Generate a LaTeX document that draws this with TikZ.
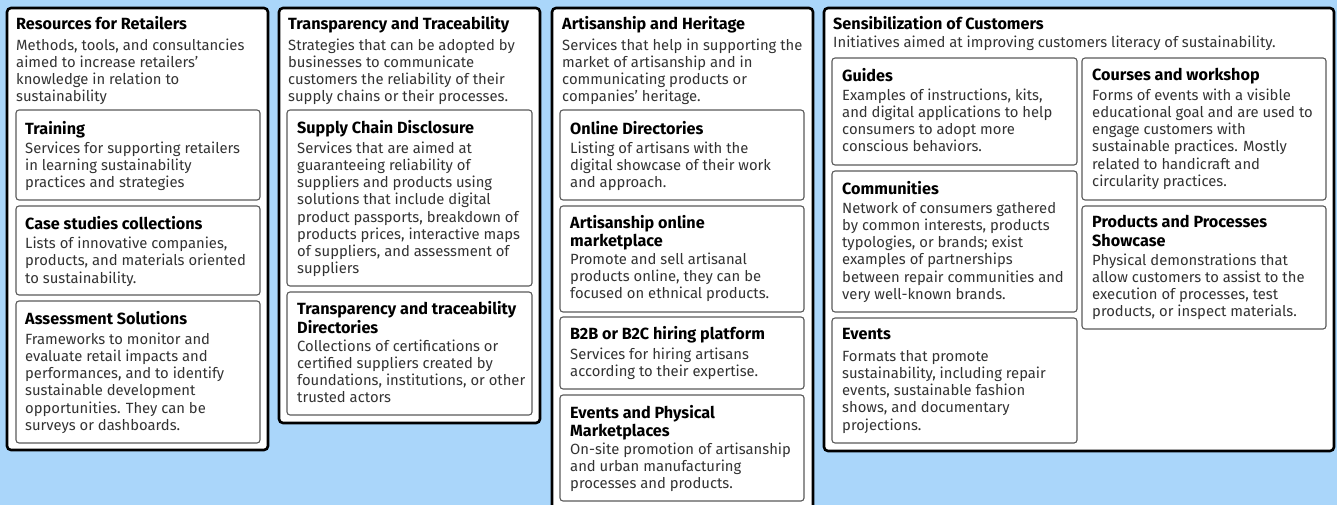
\documentclass[tikz,border=0pt]{standalone}
\usepackage{fontspec}
\setmainfont{Fira Sans}
\definecolor{bgblue}{HTML}{AAD6FA}
\definecolor{descgray}{HTML}{333333}
\definecolor{innergray}{HTML}{5A5A5A}
\tikzset{
  outerbox/.style={draw=black, line width=2.6pt, fill=white, rounded corners=4pt, inner sep=0pt, outer sep=0pt, anchor=north west},
  innerbox/.style={draw=innergray, line width=1.1pt, fill=white, rounded corners=3pt, inner sep=0pt, outer sep=0pt, anchor=north west},
  ttlst/.style={font=\bfseries\fontsize{16.2}{16.6}\selectfont, text=black, align=left, inner sep=0pt, anchor=north west},
  dscst/.style={font=\fontsize{14.8}{17.2}\selectfont, text=descgray, align=left, inner sep=0pt, anchor=north west},
}
\newcommand\bx[6][innerbox]{\node[#1, minimum width={#5-#3}, minimum height={#6-#4}] (#2) at (#3,#4) {};}
\newcommand\ttl[4]{\node[ttlst] (#1) at (#2,{#3-11.62}) {\strut #4};}
\newcommand\dsc[4]{\node[dscst] (#1) at (#2,{#3-12.04}) {\strut #4};}
\begin{document}
\begin{tikzpicture}[x=1pt,y=-1pt]
\fill[bgblue] (0,0) rectangle (1337,505);
\useasboundingbox (0,0) rectangle (1337,505);
\clip (0,0) rectangle (1337,505);
% Box 1
\bx[outerbox]{r}{7}{8}{268}{450}
\ttl{r-t}{16}{28}{Resources for Retailers}
\dsc{r-d}{16}{50}{Methods, tools, and consultancies\\aimed to increase retailers’\\knowledge in relation to\\sustainability}
\bx{r1}{16}{110}{260}{200}
\ttl{r1-t}{25}{133}{Training}
\dsc{r1-d}{25}{153}{Services for supporting retailers\\in learning sustainability\\practices and strategies}
\bx{r2}{16}{206}{260}{295}
\ttl{r2-t}{25}{228}{Case studies collections}
\dsc{r2-d}{25}{248.5}{Lists of innovative companies,\\products, and materials oriented\\to sustainability.}
\bx{r3}{16}{301}{260}{443}
\ttl{r3-t}{25}{323}{Assessment Solutions}
\dsc{r3-d}{25}{344}{Frameworks to monitor and\\evaluate retail impacts and\\performances, and to identify\\sustainable development\\opportunities. They can be\\surveys or dashboards.}
% Box 2
\bx[outerbox]{t}{279}{8}{540}{423}
\ttl{t-t}{288}{28}{Transparency and Traceability}
\dsc{t-d}{288}{50}{Strategies that can be adopted by\\businesses to communicate\\customers the reliability of their\\supply chains or their processes.}
\bx{t1}{287}{110}{532}{286}
\ttl{t1-t}{297}{132}{Supply Chain Disclosure}
\dsc{t1-d}{297}{153}{Services that are aimed at\\guaranteeing reliability of\\suppliers and products using\\solutions that include digital\\product passports, breakdown of\\products prices, interactive maps\\of suppliers, and assessment of\\suppliers}
\bx{t2}{287}{292}{532}{415}
\ttl{t2-t}{297}{313}{Transparency and traceability\\Directories}
\dsc{t2-d}{297}{351}{Collections of certifications or\\certified suppliers created by\\foundations, institutions, or other\\trusted actors}
% Box 3
\bx[outerbox]{a}{552}{8}{813}{520}
\ttl{a-t}{562}{28}{Artisanship and Heritage}
\dsc{a-d}{562}{50}{Services that help in supporting the\\market of artisanship and in\\communicating products or\\companies’ heritage.}
\bx{a1}{560}{110}{804}{200}
\ttl{a1-t}{570}{133}{Online Directories}
\dsc{a1-d}{570}{153}{Listing of artisans with the\\digital showcase of their work\\and approach.}
\bx{a2}{560}{206}{804}{312}
\ttl{a2-t}{570}{227}{Artisanship online\\marketplace}
\dsc{a2-d}{570}{264}{Promote and sell artisanal\\products online, they can be\\focused on ethnical products.}
\bx{a3}{560}{317}{804}{389}
\ttl{a3-t}{570}{338}{B2B or B2C hiring platform}
\dsc{a3-d}{570}{359}{Services for hiring artisans\\according to their expertise.}
\bx{a4}{560}{395}{804}{501}
\ttl{a4-t}{570}{417}{Events and Physical\\Marketplaces}
\dsc{a4-d}{570}{454}{On-site promotion of artisanship\\and urban manufacturing\\processes and products.}
% Box 4
\bx[outerbox]{s}{824}{8}{1334}{451}
\ttl{s-t}{833}{28}{Sensibilization of Customers}
\dsc{s-d}{833}{47}{Initiatives aimed at improving customers literacy of sustainability.}
\bx{s1}{832}{58}{1077}{165}
\ttl{s1-t}{842}{80}{Guides}
\dsc{s1-d}{842}{100}{Examples of instructions, kits,\\and digital applications to help\\consumers to adopt more\\conscious behaviors.}
\bx{s2}{832}{171}{1077}{312}
\ttl{s2-t}{842}{193}{Communities}
\dsc{s2-d}{842}{213}{Network of consumers gathered\\by common interests, products\\typologies, or brands; exist\\examples of partnerships\\between repair communities and\\very well-known brands.}
\bx{s3}{832}{318}{1077}{443}
\ttl{s3-t}{842}{339}{Events}
\dsc{s3-d}{842}{361}{Formats that promote\\sustainability, including repair\\events, sustainable fashion\\shows, and documentary\\projections.}
\bx{s4}{1082}{58}{1326}{200}
\ttl{s4-t}{1092}{80}{Courses and workshop}
\dsc{s4-d}{1092}{100}{Forms of events with a visible\\educational goal and are used to\\engage customers with\\sustainable practices. Mostly\\related to handicraft and\\circularity practices.}
\bx{s5}{1082}{206}{1326}{329}
\ttl{s5-t}{1092}{227}{Products and Processes\\Showcase}
\dsc{s5-d}{1092}{265}{Physical demonstrations that\\allow customers to assist to the\\execution of processes, test\\products, or inspect materials.}
\end{tikzpicture}
\end{document}
